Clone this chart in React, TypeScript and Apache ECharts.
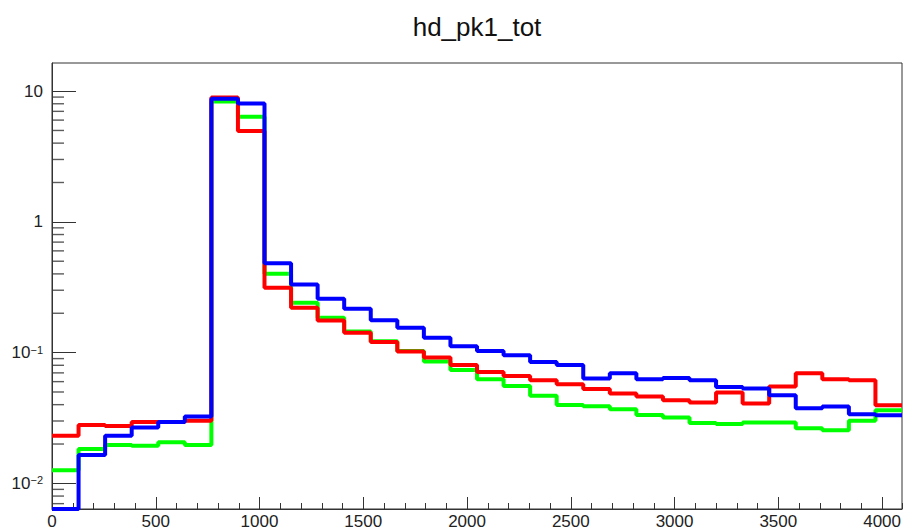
import React, { useEffect, useRef } from "react";
import * as echarts from "echarts";

// Histogram "hd_pk1_tot": 32 bins of width 128 over 0..4096
const BIN_WIDTH = 128;
const N_BINS = 32;

const greenValues = [
  0.0126, 0.0183, 0.0197, 0.0194, 0.0206, 0.0197, 8.33, 6.36,
  0.401, 0.241, 0.185, 0.145, 0.122, 0.103, 0.0854, 0.0736,
  0.0625, 0.0556, 0.0467, 0.0398, 0.0389, 0.0369, 0.0334, 0.0319,
  0.0289, 0.0284, 0.0292, 0.0292, 0.0264, 0.0255, 0.0301, 0.0363,
];
const redValues = [
  0.0231, 0.0279, 0.0275, 0.0295, 0.0295, 0.0301, 8.95, 4.95,
  0.313, 0.220, 0.176, 0.142, 0.1205, 0.102, 0.0916, 0.0804,
  0.0711, 0.0662, 0.0615, 0.0573, 0.0528, 0.0486, 0.0461, 0.0432,
  0.0415, 0.0495, 0.0408, 0.0550, 0.0695, 0.0625, 0.0615, 0.0396,
];
const blueValues = [
  0, 0.0165, 0.0231, 0.0267, 0.0295, 0.0325, 8.72, 8.05,
  0.483, 0.332, 0.258, 0.217, 0.177, 0.155, 0.130, 0.112,
  0.1028, 0.0953, 0.0848, 0.0804, 0.0633, 0.0695, 0.0625, 0.0640,
  0.0615, 0.0546, 0.0531, 0.0472, 0.0376, 0.0387, 0.0338, 0.0332,
];

const Y_MIN = 0.00637;
const Y_MAX = 16.4;
const X_MAX = 4096;
const X_MAJOR = 500;
const X_MINOR = 100;
const Y_MINOR_TICKS = [
  0.007, 0.008, 0.009,
  0.02, 0.03, 0.04, 0.05, 0.06, 0.07, 0.08, 0.09,
  0.2, 0.3, 0.4, 0.5, 0.6, 0.7, 0.8, 0.9,
  2, 3, 4, 5, 6, 7, 8, 9,
];

const FONT = "'Liberation Sans', Arial, Helvetica, sans-serif";
const AXIS_COLOR = "#333";
const LABEL_COLOR = "#222";

function histData(values: number[]) {
  const pts: [number, number][] = [];
  for (let i = 0; i < N_BINS; i++) {
    const v = values[i] > 0 ? values[i] : Y_MIN; // empty bins sit on the frame bottom
    pts.push([i * BIN_WIDTH, v]);
  }
  const last = values[N_BINS - 1] > 0 ? values[N_BINS - 1] : Y_MIN;
  pts.push([N_BINS * BIN_WIDTH, last]);
  return pts;
}

function stepSeries(name: string, values: number[], color: string) {
  return {
    name,
    type: "line",
    step: "end",
    data: histData(values),
    showSymbol: false,
    symbol: "none",
    lineStyle: { color, width: 4 },
    itemStyle: { color },
    z: 3,
    silent: true,
  };
}

export default function App() {
  const ref = useRef<HTMLDivElement>(null);
  useEffect(() => {
    if (!ref.current) return;
    const chart = echarts.init(ref.current, undefined, { renderer: "svg" });
    chart.setOption({
      animation: false,
      backgroundColor: "#ffffff",
      grid: {
        left: 52,
        right: 2,
        top: 63,
        bottom: 20,
        show: true,
        borderColor: AXIS_COLOR,
        borderWidth: 1,
        backgroundColor: "transparent",
      },
      graphic: [
        {
          type: "text",
          x: 477,
          y: 27,
          style: {
            text: "hd_pk1_tot",
            font: `26px ${FONT}`,
            fill: "#111",
            textAlign: "center",
            textVerticalAlign: "middle",
          },
        },
      ],
      xAxis: [
        {
          type: "value",
          min: 0,
          max: X_MAX,
          interval: X_MAJOR,
          position: "bottom",
          axisLine: { show: true, lineStyle: { color: AXIS_COLOR, width: 1 } },
          axisTick: { show: true, inside: true, length: 12, lineStyle: { color: AXIS_COLOR, width: 1 } },
          axisLabel: {
            fontSize: 17,
            fontFamily: FONT,
            color: LABEL_COLOR,
            margin: 4,
            showMaxLabel: false,
            formatter: (v: number) => String(Math.round(v)),
          },
          splitLine: { show: false },
        },
        {
          type: "value",
          min: 0,
          max: X_MAX,
          interval: X_MINOR,
          position: "bottom",
          axisLine: { show: false },
          axisTick: { show: true, inside: true, length: 6, lineStyle: { color: AXIS_COLOR, width: 1 } },
          axisLabel: { show: false },
          splitLine: { show: false },
        },
      ],
      yAxis: {
        type: "log",
        logBase: 10,
        min: Y_MIN,
        max: Y_MAX,
        axisLine: { show: true, lineStyle: { color: AXIS_COLOR, width: 1 } },
        axisTick: { show: true, inside: true, length: 24, lineStyle: { color: AXIS_COLOR, width: 1 } },
        axisLabel: {
          fontSize: 17,
          fontFamily: FONT,
          color: LABEL_COLOR,
          margin: 9,
          showMinLabel: false,
          showMaxLabel: false,
          formatter: (v: number) => {
            const e = Math.round(Math.log10(v));
            if (e === 1) return "10";
            if (e === 0) return "1";
            return `{b|10}{sup|\u2212${-e}}`;
          },
          rich: {
            b: {
              fontSize: 17,
              fontFamily: FONT,
              color: LABEL_COLOR,
              lineHeight: 17,
              verticalAlign: "bottom",
              padding: [4, 0, 0, 0],
            },
            sup: {
              fontSize: 11,
              fontFamily: FONT,
              color: LABEL_COLOR,
              lineHeight: 11,
              verticalAlign: "top",
            },
          },
        },
        splitLine: { show: false },
      },
      series: [
        {
          name: "minorTicksY",
          type: "scatter",
          data: Y_MINOR_TICKS.map((v) => [0, v]),
          symbol: "rect",
          symbolSize: [12, 1.4],
          symbolOffset: [6, 0],
          itemStyle: { color: AXIS_COLOR },
          silent: true,
          z: 1,
        },
        stepSeries("green", greenValues, "#00ff00"),
        stepSeries("red", redValues, "#ff0000"),
        stepSeries("blue", blueValues, "#0000ff"),
      ],
    });
    return () => chart.dispose();
  }, []);
  return (
    <div
      ref={ref}
      style={{ position: "fixed", left: 0, top: 0, width: 904, height: 530, background: "#fff" }}
    />
  );
}
